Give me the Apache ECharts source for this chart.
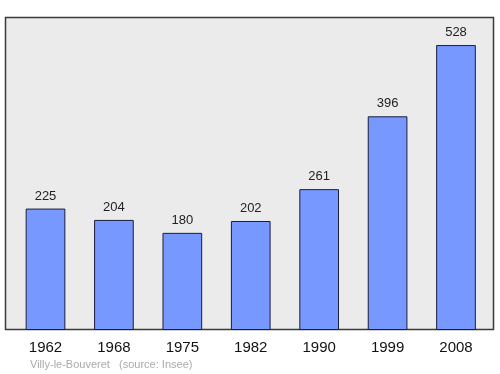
<!DOCTYPE html>
<html><head><meta charset="utf-8">
<script src="https://cdn.jsdelivr.net/npm/echarts@6/dist/echarts.min.js"></script>
<style>html,body{margin:0;padding:0;background:#fff}#c{width:500px;height:374px}</style>
</head><body><div id="c"></div>
<script>
const years = ['1962','1968','1975','1982','1990','1999','2008'];
const population = [225, 204, 180, 202, 261, 396, 528];
const sourceText = 'Villy-le-Bouveret   (source: Insee)';

const chart = echarts.init(document.getElementById('c'), null, {renderer:'canvas'});
chart.setOption({
  animation:false,
  backgroundColor:'#ffffff',
  graphic:[
    {type:'rect', z:-10, shape:{x:5.5,y:17.5,width:488,height:312},
     style:{fill:'#ebebeb', stroke:'#3a3a3a', lineWidth:1.5}},
    {type:'text', left:30, top:359, style:{text:sourceText, fill:'#aaaaaa', font:'11px "Liberation Sans", Arial, sans-serif'}}
  ],
  grid:{left:11.3, right:9.8, top:17, bottom:44},
  xAxis:{type:'category', data:years, boundaryGap:true,
    axisLine:{show:false}, axisTick:{show:false},
    axisLabel:{color:'#111', fontSize:15, margin:10, fontFamily:'"Liberation Sans", Arial, sans-serif'}},
  yAxis:{type:'value', min:0, max:580, show:false, splitLine:{show:false}},
  series:[{type:'bar', data:population, barWidth:'58%',
    itemStyle:{color:'#7799ff', borderColor:'#1c1c3c', borderWidth:1},
    label:{show:true, position:'top', distance:6, color:'#222', fontSize:13, fontFamily:'"Liberation Sans", Arial, sans-serif'}}]
});
</script></body></html>
